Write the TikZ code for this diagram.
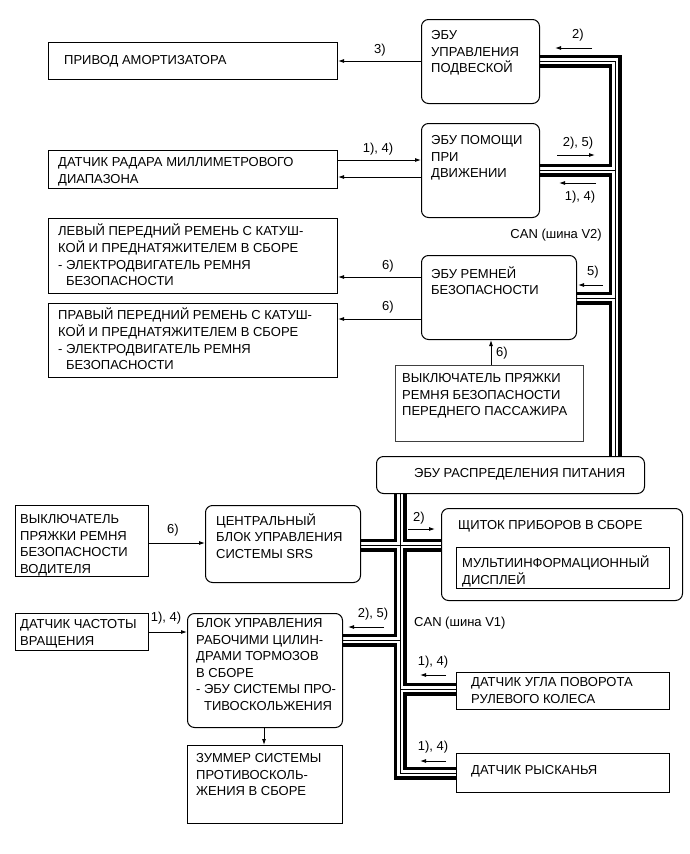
\documentclass[tikz,border=0pt]{standalone}
\usepackage{fontspec}
\setmainfont{Liberation Sans}
\usetikzlibrary{arrows.meta,backgrounds}
\newcommand\fs{\fontsize{13}{16.5}\selectfont}
\tikzset{
  box/.style={draw, line width=1pt, inner sep=0pt, anchor=north west},
  rbox/.style={box, rounded corners=7pt},
  txt/.style={anchor=north west, inner sep=0pt, align=left, font=\fs},
  lbl/.style={inner sep=0pt, font=\fs},
  arr/.style={-{Latex[length=6pt,width=4pt]}, line width=0.9pt},
}
\newcommand\buslines{%
  \draw (ecu1.east |- 0,61) -- (615,61) -- (pwr.north -| 615,0);
  \draw (ecu2.east |- 0,170) -- (615,170);
  \draw (ecu3.east |- 0,298) -- (615,298);
  \draw (pwr.south -| 400,0) -- (400,773) -- (yaw.west |- 0,773);
  \draw (srs.east |- 0,545) -- (meter.west |- 0,545);
  \draw (brk.east |- 0,640) -- (400,640);
  \draw (400,689) -- (steer.west |- 0,689);
}
\begin{document}
\begin{tikzpicture}[x=1pt,y=-1pt]
\useasboundingbox (0,0) rectangle (690,854);
% boxes
\node[box, minimum width=289pt, minimum height=37pt] (pa) at (48,42) {};
\node[rbox, minimum width=118pt, minimum height=84pt] (ecu1) at (421,19) {};
\node[box, minimum width=289pt, minimum height=38pt] (radar) at (48,150) {};
\node[rbox, minimum width=118pt, minimum height=94pt] (ecu2) at (421,123) {};
\node[box, minimum width=289pt, minimum height=75pt] (lbelt) at (48,218) {};
\node[rbox, minimum width=155pt, minimum height=84pt] (ecu3) at (421,255) {};
\node[box, minimum width=289pt, minimum height=74pt] (rbelt) at (48,303) {};
\node[box, draw=black!75, minimum width=188pt, minimum height=76pt] (pass) at (395,365) {};
\node[rbox, minimum width=268pt, minimum height=37pt] (pwr) at (376,456) {};
\node[box, minimum width=133pt, minimum height=71pt] (drv) at (15,505) {};
\node[rbox, minimum width=155pt, minimum height=77pt] (srs) at (205,505) {};
\node[rbox, minimum width=241pt, minimum height=92pt] (meter) at (441,508) {};
\node[box, minimum width=213pt, minimum height=41pt] (mfd) at (456,547) {};
\node[box, minimum width=133pt, minimum height=37pt] (spd) at (15,613) {};
\node[rbox, minimum width=155pt, minimum height=114pt] (brk) at (187,613) {};
\node[box, minimum width=155pt, minimum height=78pt] (buzz) at (187,745) {};
\node[box, minimum width=213pt, minimum height=37pt] (steer) at (456,672) {};
\node[box, minimum width=213pt, minimum height=39pt] (yaw) at (456,753) {};
% texts
\node[txt] (pa-t) at (64,53.1) {\strut ПРИВОД АМОРТИЗАТОРА};
\node[txt] (ecu1-t) at (431,28.1) {\strut ЭБУ\\УПРАВЛЕНИЯ\\ПОДВЕСКОЙ};
\node[txt] (radar-t) at (58,155.1) {\strut ДАТЧИК РАДАРА МИЛЛИМЕТРОВОГО\\ДИАПАЗОНА};
\node[txt] (ecu2-t) at (431,133.1) {\strut ЭБУ ПОМОЩИ\\ПРИ\\ДВИЖЕНИИ};
\node[txt] (lbelt-t) at (58,223.1) {\strut ЛЕВЫЙ ПЕРЕДНИЙ РЕМЕНЬ С КАТУШ-\\КОЙ И ПРЕДНАТЯЖИТЕЛЕМ В СБОРЕ\\- ЭЛЕКТРОДВИГАТЕЛЬ РЕМНЯ\\\hspace*{8pt}БЕЗОПАСНОСТИ};
\node[txt] (ecu3-t) at (431,266.1) {\strut ЭБУ РЕМНЕЙ\\БЕЗОПАСНОСТИ};
\node[txt] (rbelt-t) at (58,307.1) {\strut ПРАВЫЙ ПЕРЕДНИЙ РЕМЕНЬ С КАТУШ-\\КОЙ И ПРЕДНАТЯЖИТЕЛЕМ В СБОРЕ\\- ЭЛЕКТРОДВИГАТЕЛЬ РЕМНЯ\\\hspace*{8pt}БЕЗОПАСНОСТИ};
\node[txt] (pass-t) at (402,371.1) {\strut ВЫКЛЮЧАТЕЛЬ ПРЯЖКИ\\РЕМНЯ БЕЗОПАСНОСТИ\\ПЕРЕДНЕГО ПАССАЖИРА};
\node[txt] (pwr-t) at (414,466.1) {\strut ЭБУ РАСПРЕДЕЛЕНИЯ ПИТАНИЯ};
\node[txt] (drv-t) at (20,512.1) {\strut ВЫКЛЮЧАТЕЛЬ\\ПРЯЖКИ РЕМНЯ\\БЕЗОПАСНОСТИ\\ВОДИТЕЛЯ};
\node[txt] (srs-t) at (216,513.1) {\strut ЦЕНТРАЛЬНЫЙ\\БЛОК УПРАВЛЕНИЯ\\СИСТЕМЫ SRS};
\node[txt] (meter-t) at (458,518.1) {\strut ЩИТОК ПРИБОРОВ В СБОРЕ};
\node[txt] (mfd-t) at (462,555.1) {\strut МУЛЬТИИНФОРМАЦИОННЫЙ\\ДИСПЛЕЙ};
\node[txt] (spd-t) at (20,617.1) {\strut ДАТЧИК ЧАСТОТЫ\\ВРАЩЕНИЯ};
\node[txt] (brk-t) at (196,616.1) {\strut БЛОК УПРАВЛЕНИЯ\\РАБОЧИМИ ЦИЛИН-\\ДРАМИ ТОРМОЗОВ\\В СБОРЕ\\- ЭБУ СИСТЕМЫ ПРО-\\\hspace*{8pt}ТИВОСКОЛЬЖЕНИЯ};
\node[txt] (buzz-t) at (196,751.1) {\strut ЗУММЕР СИСТЕМЫ\\ПРОТИВОСКОЛЬ-\\ЖЕНИЯ В СБОРЕ};
\node[txt] (steer-t) at (471,675.1) {\strut ДАТЧИК УГЛА ПОВОРОТА\\РУЛЕВОГО КОЛЕСА};
\node[txt] (yaw-t) at (471,763.1) {\strut ДАТЧИК РЫСКАНЬЯ};
% CAN bus
\begin{pgfonlayer}{background}
\begin{scope}[line width=13pt, line join=miter]\buslines\end{scope}
\begin{scope}[line width=6.6pt, white, line join=miter]\buslines\end{scope}
\begin{scope}[line width=0.9pt, line join=miter]\buslines\end{scope}
\end{pgfonlayer}
\node[lbl, anchor=east] (canv2) at (602,235) {CAN (шина V2)};
\node[lbl, anchor=west] (canv1) at (414,623) {CAN (шина V1)};
% connectors
\draw[arr] (ecu1.west |- 0,61) -- (pa.east |- 0,61);
\node[lbl] (l3) at (380,50) {3)};
\draw[arr] (radar.east |- 0,160) -- (ecu2.west |- 0,160);
\node[lbl] (l14a) at (378,149) {1), 4)};
\draw[arr] (ecu2.west |- 0,177) -- (radar.east |- 0,177);
\draw[arr] (ecu3.west |- 0,277) -- (lbelt.east |- 0,277);
\node[lbl] (l6a) at (388,266) {6)};
\draw[arr] (ecu3.west |- 0,319) -- (rbelt.east |- 0,319);
\node[lbl] (l6b) at (388,307) {6)};
\draw[arr] (pass.north -| 491,0) -- (ecu3.south -| 491,0);
\node[lbl] (l6c) at (502,353) {6)};
\draw[arr] (drv.east |- 0,543) -- (srs.west |- 0,543);
\node[lbl] (l6d) at (173,530) {6)};
\draw[arr] (spd.east |- 0,632) -- (brk.west |- 0,632);
\node[lbl] (l14b) at (166,618) {1), 4)};
\draw[arr] (brk.south -| 264,0) -- (buzz.north -| 264,0);
% bus direction arrows
\draw[arr] (592,48) -- (555,48);
\node[lbl] (l2a) at (578,35) {2)};
\draw[arr] (557,155) -- (595,155);
\node[lbl] (l25a) at (578,143) {2), 5)};
\draw[arr] (596,183) -- (559,183);
\node[lbl] (l14c) at (580,197) {1), 4)};
\draw[arr] (603,285) -- (578,285);
\node[lbl] (l5) at (593,272) {5)};
\draw[arr] (408,529) -- (435,529);
\node[lbl] (l2b) at (419,518) {2)};
\draw[arr] (384,627) -- (348,627);
\node[lbl] (l25b) at (373,614) {2), 5)};
\draw[arr] (446,675) -- (420,675);
\node[lbl] (l14d) at (433,662) {1), 4)};
\draw[arr] (446,761) -- (420,761);
\node[lbl] (l14e) at (433,747) {1), 4)};
\end{tikzpicture}
\end{document}
